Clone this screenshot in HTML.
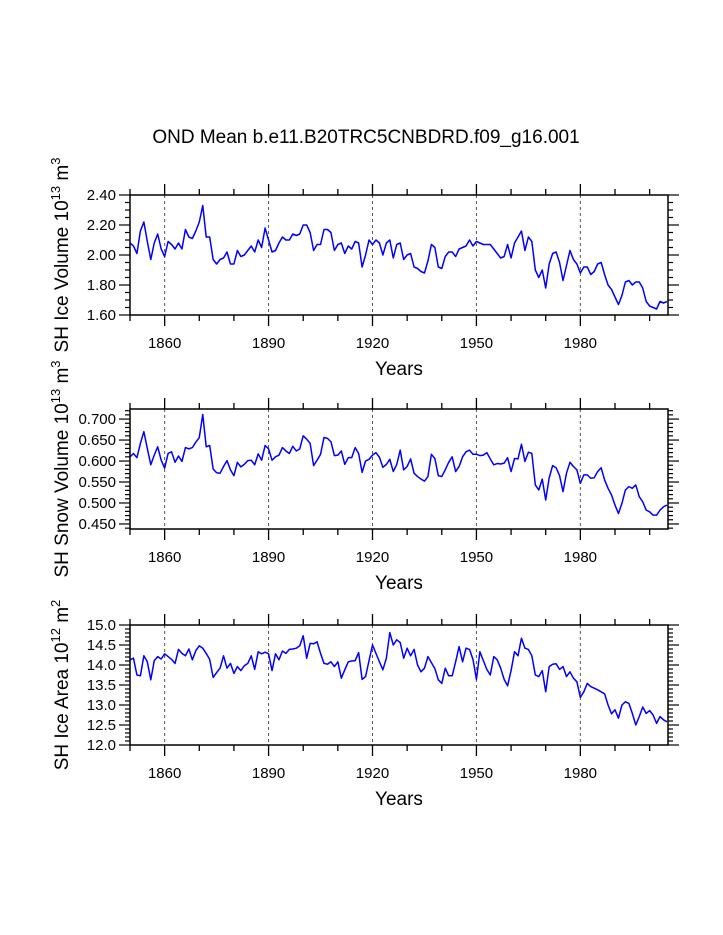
<!DOCTYPE html>
<html><head><meta charset="utf-8"><style>
html,body{margin:0;padding:0;background:#fff;}
svg{display:block;font-family:"Liberation Sans",Arial,sans-serif;}
</style></head><body>
<svg id="chart" width="723" height="935" viewBox="0 0 723 935" xmlns="http://www.w3.org/2000/svg">
<text x="366" y="143" font-size="19" text-anchor="middle">OND Mean b.e11.B20TRC5CNBDRD.f09_g16.001</text>
</svg>
<script>
const startYear = 1850;
const iceVolume = [2.08,2.06,2.01,2.16,2.22,2.09,1.97,2.08,2.14,2.04,1.99,2.09,2.07,2.04,2.08,2.04,2.17,2.12,2.11,2.16,2.22,2.33,2.12,2.12,1.97,1.94,1.97,1.98,2.02,1.94,1.94,2.03,1.99,2.00,2.03,2.06,2.02,2.10,2.05,2.18,2.10,2.02,2.03,2.08,2.12,2.10,2.10,2.14,2.13,2.14,2.20,2.20,2.15,2.03,2.07,2.07,2.17,2.17,2.15,2.03,2.07,2.08,2.01,2.06,2.04,2.09,2.08,1.92,2.00,2.10,2.07,2.10,2.08,2.00,2.08,2.10,1.98,2.07,2.08,
1.97,2.00,2.01,1.92,1.91,1.89,1.88,1.96,2.07,2.05,1.92,1.91,1.99,2.02,2.02,1.99,2.04,2.05,2.06,2.10,2.06,2.09,2.08,2.07,2.07,2.07,2.04,2.01,1.98,1.99,2.07,1.98,2.08,2.12,2.16,2.03,2.12,2.09,1.90,1.85,1.90,1.78,1.94,2.01,2.02,1.95,1.83,1.93,2.03,1.97,1.94,1.88,1.92,1.92,1.87,1.89,1.94,1.95,1.87,1.80,1.77,1.72,1.67,1.73,1.82,1.83,1.80,1.82,1.82,1.78,1.69,1.66,1.65,1.64,1.69,1.68,1.69];
const snowVolume = [0.610,0.618,0.608,0.642,0.670,0.630,0.591,0.614,0.634,0.602,0.583,0.618,0.622,0.597,0.612,0.599,0.632,0.629,0.632,0.645,0.656,0.711,0.634,0.637,0.581,0.572,0.571,0.587,0.601,0.579,0.565,0.597,0.586,0.592,0.601,0.602,0.591,0.617,0.602,0.637,0.629,0.602,0.610,0.614,0.632,0.624,0.618,0.635,0.624,0.629,0.660,0.652,0.642,0.589,0.602,0.616,0.656,0.654,0.646,0.613,0.614,0.624,0.592,0.608,0.608,0.632,0.618,0.573,0.600,0.604,0.614,0.620,0.609,0.585,0.592,0.604,0.575,0.592,0.626,
0.579,0.587,0.605,0.571,0.563,0.557,0.552,0.563,0.616,0.606,0.565,0.563,0.579,0.597,0.610,0.575,0.587,0.610,0.622,0.626,0.616,0.616,0.613,0.614,0.620,0.605,0.591,0.594,0.593,0.595,0.608,0.575,0.606,0.605,0.640,0.599,0.621,0.618,0.543,0.531,0.557,0.507,0.560,0.589,0.584,0.565,0.527,0.571,0.597,0.587,0.579,0.547,0.567,0.567,0.559,0.560,0.575,0.584,0.555,0.535,0.519,0.495,0.475,0.499,0.531,0.539,0.535,0.543,0.515,0.503,0.483,0.479,0.471,0.471,0.483,0.491,0.495];
const iceArea = [14.13,14.17,13.75,13.73,14.23,14.08,13.63,14.11,14.21,14.15,14.28,14.21,14.14,14.04,14.39,14.29,14.23,14.40,14.13,14.36,14.48,14.42,14.29,14.14,13.69,13.81,13.92,14.23,13.92,14.04,13.79,13.96,13.86,13.98,14.04,14.23,13.89,14.33,14.28,14.32,14.28,13.86,14.28,14.13,14.35,14.29,14.39,14.40,14.42,14.48,14.73,14.17,14.54,14.53,14.58,14.29,14.04,14.02,14.08,13.96,14.08,13.67,13.88,14.08,14.10,14.11,14.31,13.64,13.71,14.11,14.50,14.29,14.08,13.88,14.17,14.81,14.50,14.63,14.56,
14.17,14.42,14.23,14.39,14.00,13.83,13.92,14.21,14.06,13.91,13.63,13.54,13.92,13.73,13.73,14.08,14.46,14.08,14.42,14.39,14.14,13.64,14.33,14.11,13.89,13.75,14.21,14.13,13.92,13.64,13.48,13.86,14.33,14.23,14.67,14.42,14.39,14.23,13.75,13.71,13.86,13.33,13.96,14.02,14.03,13.89,13.96,13.71,13.83,13.67,13.58,13.19,13.33,13.54,13.46,13.42,13.38,13.33,13.28,13.00,12.78,12.88,12.67,13.00,13.08,13.04,12.79,12.50,12.71,12.95,12.79,12.86,12.75,12.54,12.71,12.63,12.58];
const yearLabels = [1860,1890,1920,1950,1980];
const ticks1 = ["1.60","1.80","2.00","2.20","2.40"];
const ticks2 = ["0.450","0.500","0.550","0.600","0.650","0.700"];
const ticks3 = ["12.0","12.5","13.0","13.5","14.0","14.5","15.0"];

const NS = "http://www.w3.org/2000/svg";
const svg = document.getElementById('chart');
const X0 = 130, X1 = 668, YR0 = 1850, YR1 = 2005.3;
function xs(yr){ return X0 + (yr - YR0) * (X1 - X0) / (YR1 - YR0); }
function mk(tag, attrs, parent){ const e = document.createElementNS(NS, tag); for (const k in attrs) e.setAttribute(k, attrs[k]); (parent||svg).appendChild(e); return e; }

function panel(cfg){
  const g = mk('g', {});
  
  
  const top = cfg.top, bot = cfg.top + 120;
  const ys = v => bot - (v - cfg.ymin) * 120 / (cfg.ymax - cfg.ymin);
  yearLabels.forEach(y => {
    const l = mk('line', {x1:xs(y), x2:xs(y), y1:top, y2:bot, stroke:'#555', 'stroke-width':1, 'stroke-dasharray':'3,3'}, g);
    
    
  });
  for (let y = 1850; y <= 2000; y += 10) {
    const major = yearLabels.includes(y);
    const len = major ? 11 : 6;
    mk('line', {x1:xs(y), x2:xs(y), y1:top, y2:top-len, stroke:'#000', 'stroke-width':1.3}, g);
    mk('line', {x1:xs(y), x2:xs(y), y1:bot, y2:bot+len, stroke:'#000', 'stroke-width':1.3}, g);
  }
  yearLabels.forEach(y => {
    const t = mk('text', {x:xs(y), y:bot+33, 'font-size':15, 'text-anchor':'middle'}, g);
    
    
    t.textContent = y;
  });
  for (let v = cfg.ymin0; v <= cfg.ymax + 1e-9; v += cfg.minor) {
    const yy = ys(v);
    if (yy < top - 0.5) continue;
    const isMajor = cfg.labels.some(l => Math.abs(parseFloat(l) - v) < 1e-6);
    const len = isMajor ? 11 : 5;
    mk('line', {x1:X0, x2:X0-len, y1:yy, y2:yy, stroke:'#000', 'stroke-width':1.2}, g);
    mk('line', {x1:X1, x2:X1+len, y1:yy, y2:yy, stroke:'#000', 'stroke-width':1.2}, g);
  }
  cfg.labels.forEach(l => {
    const t = mk('text', {x:X0-14, y:ys(parseFloat(l))+5, 'font-size':15, 'text-anchor':'end'}, g);
    
    
    t.textContent = l;
  });
  const pts = cfg.data.map((v,i) => xs(startYear + i).toFixed(2) + ',' + ys(v).toFixed(2)).join(' ');
  const pl = mk('polyline', {points:pts, fill:'none', stroke:'#0000ff', 'stroke-width':1.5, 'stroke-linejoin':'round'}, g);
  
  
  const r = mk('rect', {x:X0, y:top, width:X1-X0, height:120, fill:'none', stroke:'#000', 'stroke-width':1.5}, g);
  
  
  const xt = mk('text', {x:399, y:bot+60, 'font-size':19, 'text-anchor':'middle'}, g);
  
  
  xt.textContent = 'Years';
  const yt = mk('text', {x:0, y:0, 'font-size':19, 'text-anchor':'middle', transform:'translate(68,' + (top+60) + ') rotate(-90)'}, g);
  
  
  const a = mk('tspan', {}, yt); a.textContent = cfg.title + ' 10';
  const b = mk('tspan', {dy:-8, 'font-size':13}, yt); b.textContent = cfg.exp;
  const c = mk('tspan', {dy:8}, yt); c.textContent = ' m';
  const d = mk('tspan', {dy:-8, 'font-size':13}, yt); d.textContent = cfg.mexp;
}

panel({name:'ice-volume-panel', top:195, ymin:1.60, ymax:2.40, ymin0:1.60, minor:0.05, labels:ticks1, data:iceVolume, title:'SH Ice Volume', exp:'13', mexp:'3'});
panel({name:'snow-volume-panel', top:409, ymin:0.438, ymax:0.724, ymin0:0.44, minor:0.01, labels:ticks2, data:snowVolume, title:'SH Snow Volume', exp:'13', mexp:'3'});
panel({name:'ice-area-panel', top:625, ymin:12.0, ymax:15.0, ymin0:12.0, minor:0.1, labels:ticks3, data:iceArea, title:'SH Ice Area', exp:'12', mexp:'2'});
</script>
</body></html>
